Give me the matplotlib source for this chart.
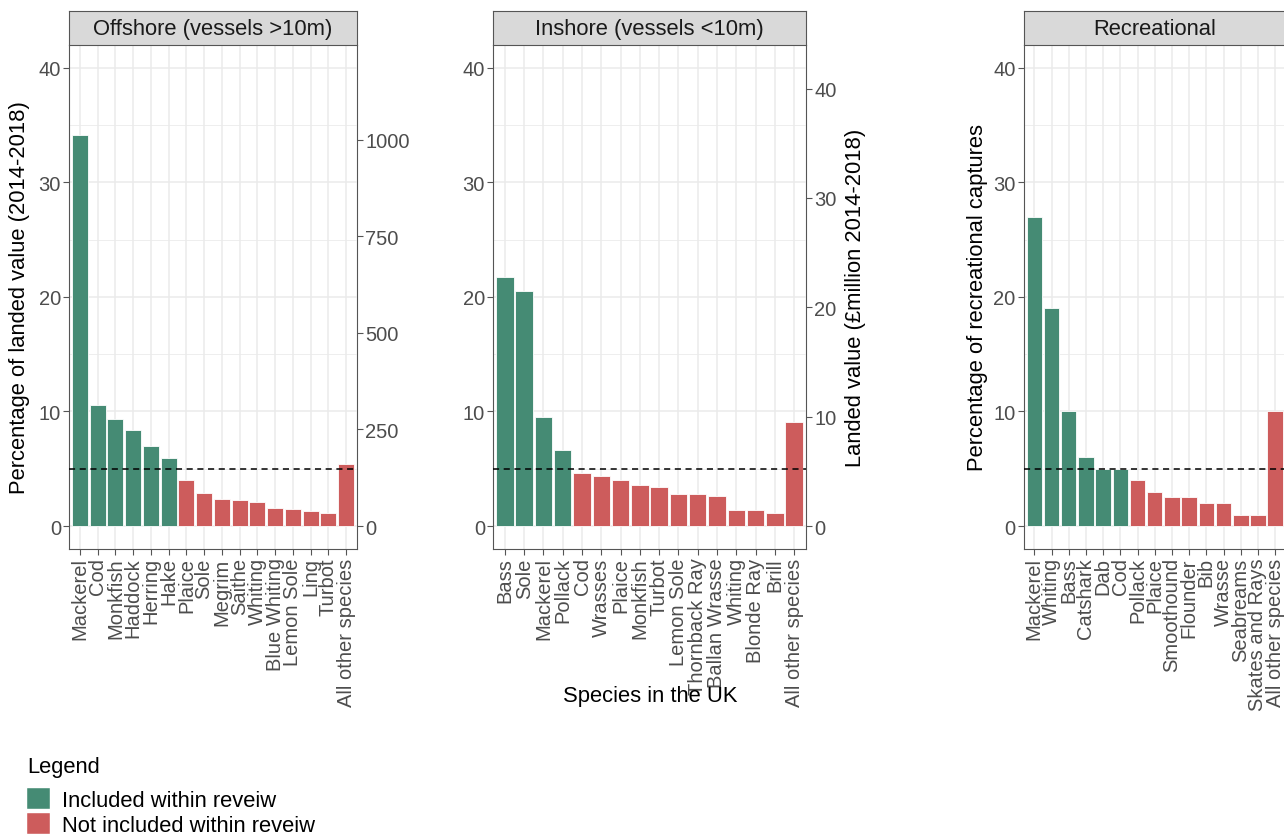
"""
Landed value / recreational captures by species, three panels
"""

import matplotlib
matplotlib.use("Agg")
import matplotlib.pyplot as plt
from matplotlib.patches import Patch
import numpy as np

plt.rcParams["font.family"] = ["Liberation Sans", "DejaVu Sans"]

#########
# DATA
#########

offshore_species = ["Mackerel", "Cod", "Monkfish", "Haddock", "Herring", "Hake",
                    "Plaice", "Sole", "Megrim", "Saithe", "Whiting", "Blue Whiting",
                    "Lemon Sole", "Ling", "Turbot", "All other species"]
offshore_pct = [34.1, 10.6, 9.3, 8.4, 7.0, 5.9, 4.0, 2.9, 2.4, 2.3, 2.1, 1.6,
                1.5, 1.3, 1.1, 5.4]
offshore_included = [True, True, True, True, True, True, False, False, False,
                     False, False, False, False, False, False, False]

inshore_species = ["Bass", "Sole", "Mackerel", "Pollack", "Cod", "Wrasses", "Plaice",
                   "Monkfish", "Turbot", "Lemon Sole", "Thornback Ray", "Ballan Wrasse",
                   "Whiting", "Blonde Ray", "Brill", "All other species"]
inshore_pct = [21.7, 20.5, 9.5, 6.6, 4.6, 4.4, 4.0, 3.6, 3.45, 2.8, 2.8, 2.65,
               1.4, 1.4, 1.15, 9.1]
inshore_included = [True, True, True, True, False, False, False, False, False,
                    False, False, False, False, False, False, False]

recreational_species = ["Mackerel", "Whiting", "Bass", "Catshark", "Dab", "Cod",
                        "Pollack", "Plaice", "Smoothound", "Flounder", "Bib", "Wrasse",
                        "Seabreams", "Skates and Rays", "All other species"]
recreational_pct = [27, 19, 10, 6, 5, 5, 4, 3, 2.5, 2.5, 2, 2, 1, 1, 10]
recreational_included = [True, True, True, True, True, True, False, False, False,
                         False, False, False, False, False, False]

# secondary axes: £ million per percentage point
offshore_scale = 29.66
inshore_scale = 1.048

threshold = 5

GREEN = "#458B74"
RED = "#CD5C5C"
GRID = "#EBEBEB"
LINE = "#555555"

W, H = 1284, 837
fig = plt.figure(figsize=(W / 100, H / 100), dpi=100)


def px_axes(x0, x1, y0, y1):
    return fig.add_axes([x0 / W, 1 - y1 / H, (x1 - x0) / W, (y1 - y0) / H])


def draw_panel(x0, x1, species, values, included, title, right_axis):
    ax = px_axes(x0, x1, 45.7, 550)
    x = np.arange(len(species))
    colors = [GREEN if inc else RED for inc in included]
    ax.bar(x, values, width=0.9, color=colors, edgecolor="white",
           linewidth=0.6, zorder=2)
    ax.axhline(threshold, color="black", lw=1.1, ls=(0, (4, 3)), zorder=3)

    ax.set_xlim(-0.6, len(species) - 0.4)
    ax.set_ylim(-2, 42)
    ax.set_yticks([0, 10, 20, 30, 40])
    ax.set_yticks([5, 15, 25, 35], minor=True)
    ax.set_xticks(x)
    ax.set_xticklabels(species, rotation=90, ha="center", va="top")

    ax.grid(which="major", color=GRID, lw=1.1, zorder=0)
    ax.grid(which="minor", axis="y", color=GRID, lw=0.6, zorder=0)
    ax.set_axisbelow(True)
    ax.tick_params(which="minor", length=0)
    ax.tick_params(which="major", length=4, width=0.8, color=LINE,
                   labelcolor="#4D4D4D", labelsize=14.5, pad=2)

    ax.spines["top"].set_visible(False)
    ax.spines["right"].set_visible(right_axis is None)
    for s in ["left", "bottom", "right"]:
        ax.spines[s].set_color(LINE)
        ax.spines[s].set_linewidth(0.8)

    if right_axis is not None:
        scale, ticks = right_axis
        sec = ax.secondary_yaxis("right", functions=(lambda v: v * scale,
                                                     lambda v: v / scale))
        sec.set_yticks(ticks)
        sec.tick_params(length=4, width=0.8, color=LINE,
                        labelcolor="#4D4D4D", labelsize=14.5, pad=2)
        sec.spines["right"].set_color(LINE)
        sec.spines["right"].set_linewidth(0.8)

    # facet strip
    strip = px_axes(x0, x1, 11.7, 45.7)
    strip.set_facecolor("#D9D9D9")
    strip.set_xticks([])
    strip.set_yticks([])
    for s in strip.spines.values():
        s.set_color(LINE)
        s.set_linewidth(0.8)
    strip.text(0.5, 0.47, title, ha="center", va="center", fontsize=15.8,
               color="#1A1A1A", transform=strip.transAxes)
    return ax


draw_panel(69.3, 356.7, offshore_species, offshore_pct, offshore_included,
           "Offshore (vessels >10m)", (offshore_scale, [0, 250, 500, 750, 1000]))
draw_panel(493.3, 805.7, inshore_species, inshore_pct, inshore_included,
           "Inshore (vessels <10m)", (inshore_scale, [0, 10, 20, 30, 40]))
draw_panel(1024, 1285.5, recreational_species, recreational_pct,
           recreational_included, "Recreational", None)

# axis titles
mid_y = 1 - 298 / H
fig.text(20 / W, mid_y, "Percentage of landed value (2014-2018)", rotation=90,
         ha="center", va="center", fontsize=15.8)
fig.text(855 / W, mid_y, "Landed value (£million 2014-2018)", rotation=90,
         ha="center", va="center", fontsize=15.8)
fig.text(978 / W, mid_y, "Percentage of recreational captures", rotation=90,
         ha="center", va="center", fontsize=15.8)
fig.text(650 / W, 1 - 697 / H, "Species in the UK", ha="center", va="center",
         fontsize=15.8)

# legend
fig.text(27 / W, 1 - 768 / H, "Legend", ha="left", va="center", fontsize=15.8)
handles = [Patch(facecolor=GREEN, edgecolor="white", linewidth=0.3,
                 label="Included within reveiw"),
           Patch(facecolor=RED, edgecolor="white", linewidth=0.3,
                 label="Not included within reveiw")]
fig.legend(handles=handles, loc="upper left",
           bbox_to_anchor=(27 / W, 1 - 789 / H), frameon=False, fontsize=15.8,
           handlelength=1.05, handleheight=1.12, handletextpad=0.55,
           labelspacing=0.08, borderpad=0, borderaxespad=0)

fig.savefig("out.png", dpi=100)
